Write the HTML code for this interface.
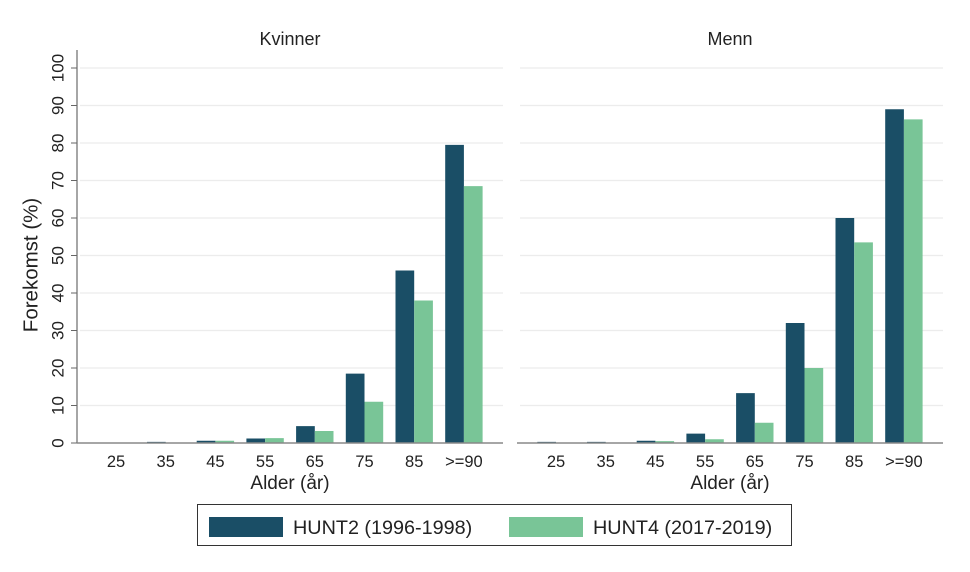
<!DOCTYPE html><html><head><style>body{margin:0;background:#fff}svg{display:block}text{font-family:"Liberation Sans",Arial,sans-serif;fill:#222}</style></head><body>
<svg width="970" height="572" viewBox="0 0 970 572" xmlns="http://www.w3.org/2000/svg">
<script>
const s=document.currentScript.ownerSVGElement||document.querySelector('svg');
const NS="http://www.w3.org/2000/svg";
function el(n,a,t){const e=document.createElementNS(NS,n);for(const k in a)e.setAttribute(k,a[k]);if(t!==undefined)e.textContent=t;s.appendChild(e);return e;}
const y0=443,u=3.75;
const L={d:[0.1,0.3,0.6,1.2,4.5,18.5,46,79.5],g:[0,0.1,0.6,1.3,3.2,11,38,68.5]};
const R={d:[0.3,0.3,0.6,2.5,13.3,32,60,89],g:[0,0.1,0.5,1,5.4,20,53.5,86.3]};
const labs=["25","35","45","55","65","75","85",">=90"];
[[77,L,"Kvinner"],[517,R,"Menn"]].forEach(([x0,D,t],p)=>{
 for(let v=10;v<=100;v+=10)el('line',{x1:x0+3,x2:x0+426,y1:y0-v*u,y2:y0-v*u,stroke:'#ececec','stroke-width':1.2});
 for(let i=0;i<8;i++){const c=x0+39+49.7*i;
  el('rect',{x:c-18.7,y:y0-D.d[i]*u,width:18.7,height:D.d[i]*u,fill:'#1a4e66'});
  el('rect',{x:c,y:y0-D.g[i]*u,width:18.7,height:D.g[i]*u,fill:'#79c597'});
  el('text',{x:c,y:467,'text-anchor':'middle','font-size':16.5},labs[i]);}
 el('line',{x1:x0,x2:x0+426,y1:y0,y2:y0,stroke:'#888','stroke-width':1.5});
 el('text',{x:x0+213,y:45,'text-anchor':'middle','font-size':18},t);
 el('text',{x:x0+213,y:489,'text-anchor':'middle','font-size':19},"Alder (år)");
});
el('line',{x1:77,x2:77,y1:50,y2:443,stroke:'#888','stroke-width':1.5});
for(let v=0;v<=100;v+=10){const y=y0-v*u;el('line',{x1:71,x2:77,y1:y,y2:y,stroke:'#666','stroke-width':1});
 el('text',{x:58,y:y,'text-anchor':'middle','font-size':17,transform:`rotate(-90 58 ${y})`,'dominant-baseline':'central'},String(v));}
el('text',{x:31,y:265,'text-anchor':'middle','font-size':20.5,'dominant-baseline':'central',transform:'rotate(-90 31 265)'},"Forekomst (%)");
el('rect',{x:197.5,y:504.5,width:594,height:41,fill:'#fff',stroke:'#333','stroke-width':1});
el('rect',{x:209,y:517,width:74,height:20,fill:'#1a4e66'});
el('text',{x:293,y:534,'font-size':19.8},"HUNT2 (1996-1998)");
el('rect',{x:509,y:517,width:74,height:20,fill:'#79c597'});
el('text',{x:593,y:534,'font-size':19.8},"HUNT4 (2017-2019)");
</script>
</svg></body></html>
